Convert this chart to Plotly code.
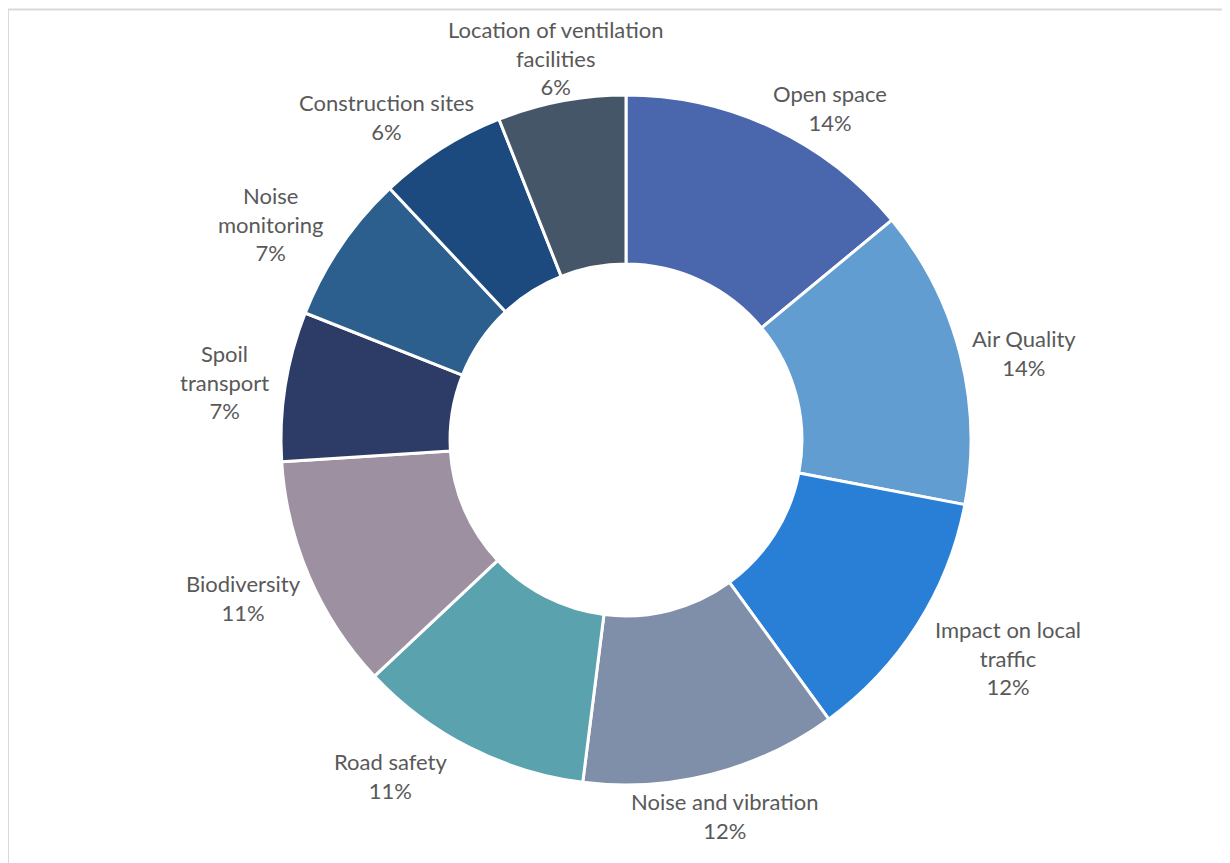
import math
import plotly.graph_objects as go

categories = ["Open space", "Air Quality", "Impact on local traffic", "Noise and vibration",
              "Road safety", "Biodiversity", "Spoil transport", "Noise monitoring",
              "Construction sites", "Location of ventilation facilities"]
label_lines = [["Open space"], ["Air Quality"], ["Impact on local", "traffic"],
               ["Noise and vibration"], ["Road safety"], ["Biodiversity"],
               ["Spoil", "transport"], ["Noise", "monitoring"], ["Construction sites"],
               ["Location of ventilation", "facilities"]]
values = [14, 14, 12, 12, 11, 11, 7, 7, 6, 6]
colors = ["#4A66AC", "#629DD1", "#297FD5", "#7F8FA9", "#5AA2AE",
          "#9D90A0", "#2C3C66", "#2D5F8E", "#1C4A7E", "#465669"]

# ---- layout / style settings (pixels) ----
W, H = 1230, 863
CX, CY, R = 618, 432, 345          # pie centre / radius in pixels
LABEL_GAP = 13                     # label box distance from outer edge
CHAR_W, LINE_H = 10, 29            # approx text metrics
TEXT_DY = -2                       # baseline correction for the font
# manual label nudges (dx, dy in px), like dragged labels in the original
label_nudge = [(30, 20), (-2, 11), (16, 5), (-14, 3), (-48, -7),
               (1, 6), (-3, 7), (-18, 12), (1, 6), (18, 14)]

fig = go.Figure(go.Pie(
    labels=categories,
    values=values,
    hole=0.51,
    sort=False,
    direction="clockwise",
    rotation=0,
    marker=dict(colors=colors, line=dict(color="white", width=3)),
    textinfo="none",
    hoverinfo="label+percent",
    showlegend=False,
    domain=dict(x=[(CX - R) / W, (CX + R) / W],
                y=[1 - (CY + R) / H, 1 - (CY - R) / H]),
))

annotations = []
total = sum(values)
cum = 0
for lines, v, (ndx, ndy) in zip(label_lines, values, label_nudge):
    mid = (cum + v / 2) / total * 2 * math.pi
    cum += v
    s, c = math.sin(mid), math.cos(mid)
    all_lines = lines + [f"{round(v / total * 100)}%"]
    w = CHAR_W * max(len(t) for t in all_lines)
    h = LINE_H * len(all_lines)
    px = CX + (R + LABEL_GAP) * s + w / 2 * s + ndx
    py = CY - (R + LABEL_GAP) * c - h / 2 * c + ndy + TEXT_DY
    annotations.append(dict(
        x=px / W, y=1 - py / H, xref="paper", yref="paper",
        text="<br>".join(all_lines), showarrow=False,
        xanchor="center", yanchor="middle", align="center",
        font=dict(family="Lato", size=22, color="#595959"),
    ))

fig.update_layout(
    width=W, height=H,
    margin=dict(l=0, r=0, t=0, b=0),
    paper_bgcolor="white",
    annotations=annotations,
    shapes=[
        dict(type="line", xref="paper", yref="paper", x0=0, x1=1.0,
             y0=1 - 1.5 / H, y1=1 - 1.5 / H, line=dict(color="#D9D9D9", width=2)),
        dict(type="line", xref="paper", yref="paper", x0=0, x1=0,
             y0=0.0, y1=1 - 1.5 / H, line=dict(color="#D9D9D9", width=2)),
    ],
)

fig.write_html("out.html")
